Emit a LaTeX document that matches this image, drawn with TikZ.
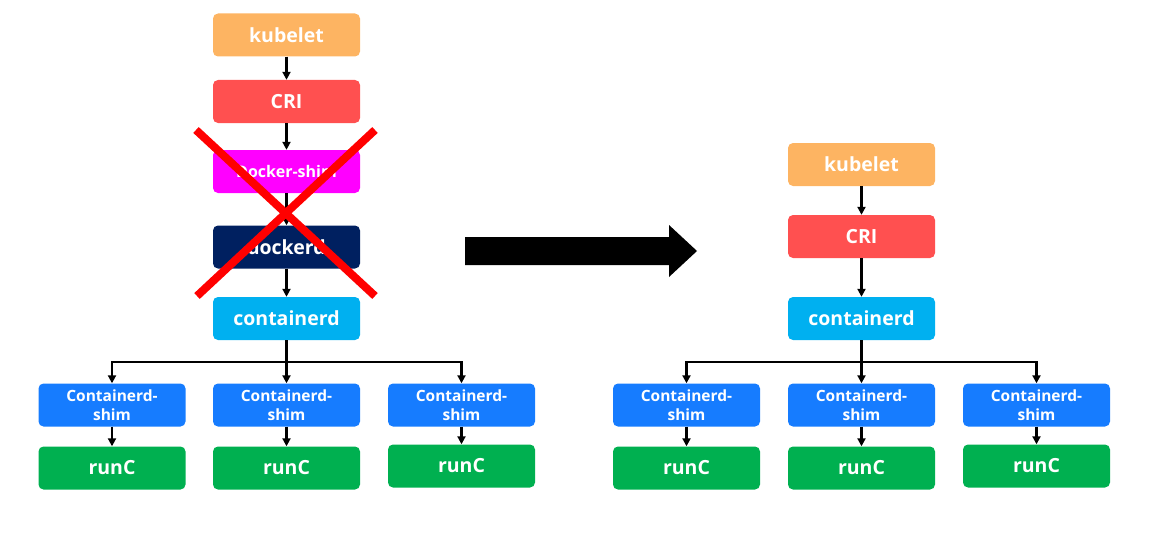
\documentclass[tikz,border=0pt]{standalone}
\usepackage{fontspec}
\setmainfont{Open Sans}
\usetikzlibrary{arrows.meta, positioning, calc}

\definecolor{kubeorange}{RGB}{253,180,98}
\definecolor{crired}{RGB}{255,80,80}
\definecolor{shimpink}{RGB}{255,0,255}
\definecolor{docknavy}{RGB}{0,32,96}
\definecolor{ctdcyan}{RGB}{0,176,240}
\definecolor{shimblue}{RGB}{22,124,255}
\definecolor{runcgreen}{RGB}{0,176,80}

\tikzset{
  box/.style={rounded corners=5pt, minimum width=147pt, minimum height=43pt,
    inner sep=1pt, text=white, font=\bfseries\fontsize{19.5}{21}\selectfont, align=center},
  smallbox/.style={box, font=\bfseries\fontsize{15.5}{19}\selectfont},
  link/.style={line width=2.2pt, -{Triangle[length=8pt,width=8pt]}}
}

\begin{document}
\begin{tikzpicture}[x=1pt,y=-1pt]
\useasboundingbox (0,0) rectangle (1149,535);
% left stack
\node[box, fill=kubeorange] (lkube) at (286.5,35) {kubelet};
\node[box, fill=crired]     (lcri)  at (286.5,101.5) {CRI};
\node[box, fill=shimpink, font=\bfseries\fontsize{16}{18}\selectfont] (lds) at (286.5,171.5) {Docker-shim};
\node[box, fill=docknavy]   (ldd)   at (286.5,247) {dockerd};
\node[box, fill=ctdcyan]    (lctd)  at (286.5,318.5) {containerd};
\draw[link] (lkube) -- (lcri);
\draw[link] (lcri) -- (lds);
\draw[link] (lds) -- (ldd);
\draw[link] (ldd) -- (lctd);
% right stack
\node[box, fill=kubeorange] (rkube) at (861.5,164.5) {kubelet};
\node[box, fill=crired]     (rcri)  at (861.5,236.5) {CRI};
\node[box, fill=ctdcyan]    (rctd)  at (861.5,318.5) {containerd};
\draw[link] (rkube) -- (rcri);
\draw[link] (rcri) -- (rctd);
% shims and runC
\foreach \s / \x / \ry in {l1/112/468, l2/286.5/468, l3/461.5/466,
  r1/686.5/468, r2/861.5/468, r3/1036.5/466} {
\node[smallbox, fill=shimblue] (shim\s) at (\x,405) {Containerd-\\shim};
\node[box, fill=runcgreen] (runc\s) at (\x,\ry) {runC};
\draw[link] (shim\s) -- (runc\s);
}
\coordinate (lfork) at ($(lctd.south)+(0,22)$);
\coordinate (rfork) at ($(rctd.south)+(0,22)$);
\draw[line width=2.2pt] (lctd.south) -- (lfork);
\draw[line width=2.2pt] (rctd.south) -- (rfork);
\foreach \s in {l1,l2,l3} \draw[link] (lfork) -| (shim\s.north);
\foreach \s in {r1,r2,r3} \draw[link] (rfork) -| (shim\s.north);
% red cross
\draw[red, line width=8pt] (196,130) -- (375,296);
\draw[red, line width=8pt] (375,130) -- (197,296);
% big arrow
\fill (465,237) -- (669,237) -- (669,225) -- (697,251) -- (669,277) -- (669,265) -- (465,265) -- cycle;
\end{tikzpicture}
\end{document}
